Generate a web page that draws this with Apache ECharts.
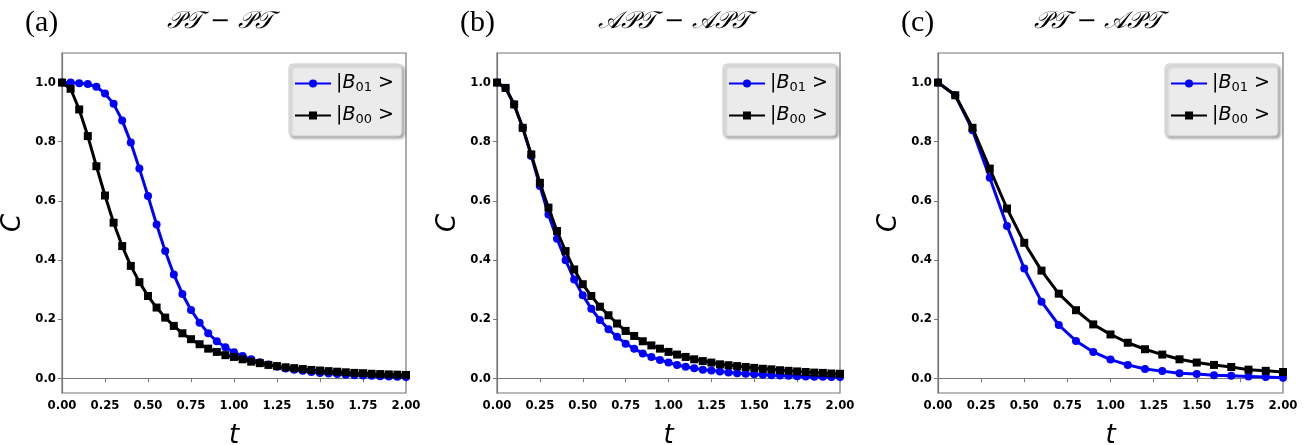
<!DOCTYPE html>
<html lang="en">
<head>
  <meta charset="UTF-8">
  <title>C(t)</title>
  <style>
    html, body { margin: 0; padding: 0; background: #fff; }
    #chart { width: 1311px; height: 445px; }
  </style>
</head>
<body>
  <div id="chart"></div>
  <script src="https://cdn.jsdelivr.net/npm/echarts@6/dist/echarts.min.js"></script>
  <script>
    // time grids
    var tFine = [0, 0.05, 0.1, 0.15, 0.2, 0.25, 0.3, 0.35, 0.4, 0.45, 0.5, 0.55, 0.6, 0.65, 0.7, 0.75,
      0.8, 0.85, 0.9, 0.95, 1.0, 1.05, 1.1, 1.15, 1.2, 1.25, 1.3, 1.35, 1.4, 1.45, 1.5, 1.55, 1.6,
      1.65, 1.7, 1.75, 1.8, 1.85, 1.9, 1.95, 2.0]
    var tCoarse = [0, 0.1, 0.2, 0.3, 0.4, 0.5, 0.6, 0.7, 0.8, 0.9, 1.0, 1.1, 1.2, 1.3, 1.4, 1.5,
      1.6, 1.7, 1.8, 1.9, 2.0]

    // (a) PT - PT
    var aB01 = [1.0, 1.0, 0.998, 0.995, 0.986, 0.963, 0.928, 0.872, 0.797, 0.709, 0.616, 0.520, 0.430,
      0.351, 0.285, 0.231, 0.188, 0.152, 0.125, 0.105, 0.088, 0.075, 0.064, 0.054, 0.046, 0.039, 0.033,
      0.029, 0.025, 0.021, 0.018, 0.016, 0.014, 0.012, 0.010, 0.009, 0.008, 0.007, 0.006, 0.005, 0.004]
    var aB00 = [1.0, 0.979, 0.909, 0.819, 0.717, 0.618, 0.526, 0.447, 0.380, 0.325, 0.278, 0.239, 0.205,
      0.177, 0.152, 0.132, 0.115, 0.100, 0.089, 0.078, 0.072, 0.064, 0.056, 0.051, 0.045, 0.041, 0.037,
      0.034, 0.031, 0.028, 0.026, 0.024, 0.022, 0.020, 0.018, 0.017, 0.015, 0.014, 0.013, 0.012, 0.011]

    // (b) APT - APT
    var bB01 = [1.0, 0.982, 0.926, 0.847, 0.752, 0.650, 0.554, 0.472, 0.399, 0.334, 0.281, 0.235, 0.197,
      0.166, 0.140, 0.117, 0.100, 0.084, 0.072, 0.062, 0.053, 0.045, 0.039, 0.034, 0.029, 0.026, 0.023,
      0.019, 0.017, 0.015, 0.013, 0.012, 0.010, 0.009, 0.008, 0.007, 0.006, 0.005, 0.005, 0.004, 0.004]
    var bB00 = [1.0, 0.982, 0.926, 0.847, 0.757, 0.661, 0.577, 0.498, 0.430, 0.368, 0.318, 0.278, 0.242,
      0.213, 0.185, 0.160, 0.143, 0.125, 0.111, 0.100, 0.089, 0.080, 0.072, 0.064, 0.058, 0.053, 0.047,
      0.044, 0.041, 0.038, 0.035, 0.032, 0.030, 0.027, 0.025, 0.023, 0.021, 0.019, 0.018, 0.016, 0.015]

    // (c) PT - APT
    var cB01 = [1.0, 0.957, 0.839, 0.678, 0.515, 0.371, 0.259, 0.180, 0.126, 0.089, 0.063, 0.045, 0.031,
      0.024, 0.017, 0.014, 0.010, 0.008, 0.006, 0.004, 0.002]
    var cB00 = [1.0, 0.957, 0.847, 0.709, 0.574, 0.458, 0.364, 0.286, 0.230, 0.182, 0.148, 0.120, 0.098,
      0.080, 0.064, 0.053, 0.045, 0.038, 0.029, 0.025, 0.021]

    var xTicks = [0, 0.25, 0.5, 0.75, 1.0, 1.25, 1.5, 1.75, 2.0]
    var yTicks = [0, 0.2, 0.4, 0.6, 0.8, 1.0]

    var panels = [
      { tag: '(a)', title: '𝒫𝒯 − 𝒫𝒯', t: tFine, b01: aB01, b00: aB00, left: 62, width: 344, titleX: 220, legendX: 289 },
      { tag: '(b)', title: '𝒜𝒫𝒯 − 𝒜𝒫𝒯', t: tFine, b01: bB01, b00: bB00, left: 497, width: 343, titleX: 674, legendX: 723 },
      { tag: '(c)', title: '𝒫𝒯 − 𝒜𝒫𝒯', t: tCoarse, b01: cB01, b00: cB00, left: 938, width: 345, titleX: 1098, legendX: 1165 }
    ]

    function zip(t, v) {
      var out = []
      for (var i = 0; i < t.length; i++) out.push([t[i], v[i]])
      return out
    }

    var tickFont = { fontFamily: 'DejaVu Sans Condensed', fontWeight: 'bold', fontSize: 13, color: '#000' }
    var frame = '#777'

    var option = {
      backgroundColor: '#fff',
      animation: false,
      grid: [], xAxis: [], yAxis: [], series: [], legend: [], graphic: []
    }

    panels.forEach(function (p, k) {
      option.grid.push({
        left: p.left, width: p.width, top: 53, height: 340,
        outerBoundsMode: 'none', containLabel: false,
        show: true, borderColor: frame, borderWidth: 1.2, backgroundColor: '#fff'
      })
      option.xAxis.push({
        type: 'value', gridIndex: k, min: 0, max: 2, interval: 0.25,
        name: 't', nameLocation: 'middle', nameGap: 30,
        nameTextStyle: { fontFamily: 'DejaVu Sans', fontStyle: 'italic', fontSize: 26, color: '#000' },
        axisLine: { show: true, lineStyle: { color: frame, width: 1.2 } },
        axisTick: { show: true, length: 4, lineStyle: { color: frame } },
        axisLabel: Object.assign({ margin: 6, formatter: function (v) { return v.toFixed(2) } }, tickFont),
        splitLine: { show: false }
      })
      option.yAxis.push({
        type: 'value', gridIndex: k, min: -0.05, max: 1.1,
        name: 'C', nameLocation: 'middle', nameGap: 36, nameRotate: 90,
        nameTextStyle: { fontFamily: 'DejaVu Sans', fontStyle: 'italic', fontSize: 26, color: '#000' },
        axisLine: { show: true, lineStyle: { color: frame, width: 1.2 } },
        axisTick: { show: true, length: 4, customValues: yTicks, lineStyle: { color: frame } },
        axisLabel: Object.assign({ margin: 6, customValues: yTicks, formatter: function (v) { return v.toFixed(1) } }, tickFont),
        splitLine: { show: false }
      })
      option.series.push({
        name: 'B01', type: 'line', xAxisIndex: k, yAxisIndex: k,
        data: zip(p.t, p.b01), symbol: 'circle', symbolSize: 8,
        lineStyle: { color: '#0000ff', width: 3 }, itemStyle: { color: '#0000ff' }, z: 2
      })
      option.series.push({
        name: 'B00', type: 'line', xAxisIndex: k, yAxisIndex: k,
        data: zip(p.t, p.b00), symbol: 'rect', symbolSize: 8,
        lineStyle: { color: '#000', width: 3 }, itemStyle: { color: '#000' }, z: 3
      })
      option.legend.push({
        left: p.legendX, top: 64, orient: 'vertical',
        data: ['B01', 'B00'], itemWidth: 36, itemHeight: 10, itemGap: 12,
        padding: [10, 8, 10, 5], selectedMode: false,
        backgroundColor: '#ebebeb', borderColor: '#cfcfcf', borderWidth: 1, borderRadius: 4,
        shadowBlur: 3, shadowColor: 'rgba(0,0,0,0.35)', shadowOffsetX: 2, shadowOffsetY: 2,
        formatter: function (name) {
          return '{n||}{b|B}{s|' + name.slice(1) + '}{n| >}'
        },
        textStyle: {
          color: '#000',
          rich: {
            n: { fontFamily: 'DejaVu Sans', fontSize: 19, color: '#000' },
            b: { fontFamily: 'DejaVu Sans', fontStyle: 'italic', fontSize: 19, color: '#000' },
            s: { fontFamily: 'DejaVu Sans', fontSize: 13, color: '#000', verticalAlign: 'bottom', padding: [8, 0, 0, 0] }
          }
        }
      })
      option.graphic.push({
        type: 'text', left: p.left - 37, top: 8,
        style: { text: p.tag, font: '30px "Liberation Serif"', fill: '#000' }
      })
      option.graphic.push({
        type: 'text', x: p.titleX, y: 22,
        style: { text: p.title, font: 'italic 24px "DejaVu Serif"', fill: '#000', align: 'center', verticalAlign: 'middle' }
      })
    })

    var myChart = echarts.init(document.getElementById('chart'))
    myChart.setOption(option)
  </script>
</body>
</html>
